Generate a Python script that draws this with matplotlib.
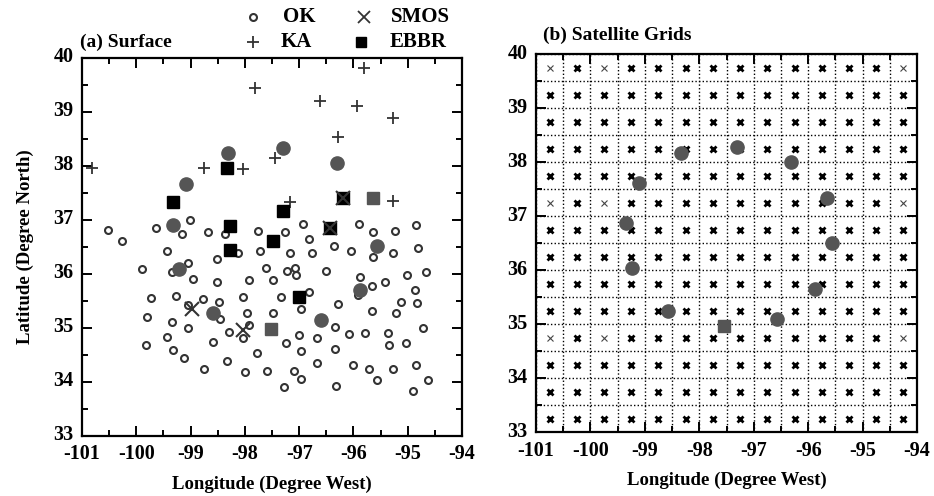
import matplotlib
matplotlib.use('Agg')
import matplotlib.pyplot as plt
from matplotlib.lines import Line2D
from matplotlib.transforms import ScaledTranslation

# ---------------- data ----------------
ok_lon = [-99.01, -100.53, -100.27, -99.64, -99.15, -98.67, -98.37, -97.75, -99.43, -98.12,
          -97.72, -98.51, -99.04, -99.90, -99.35, -98.96, -98.52, -97.92, -99.72, -99.27,
          -98.78, -98.47, -98.04, -99.80, -99.35, -99.05, -98.46, -97.96, -99.05, -98.29,
          -97.92, -98.03, -99.43, -99.82, -99.33, -98.58, -99.13, -98.32, -98.75, -98.00,
          -97.77, -97.26, -96.92, -95.89, -95.64, -95.23, -94.85, -96.81, -96.35, -96.04,
          -95.28, -94.81, -95.64, -97.17, -96.77, -97.61, -97.22, -97.08, -97.05, -97.48,
          -96.50, -95.87, -95.41, -95.01, -94.66, -96.81, -95.65, -94.87, -97.34, -96.28,
          -95.91, -95.13, -94.82, -96.96, -97.49, -96.34, -95.66, -95.21, -94.71, -97.01,
          -96.68, -96.08, -95.79, -95.36, -97.24, -96.96, -96.34, -95.34, -95.03, -96.68,
          -96.00, -97.60, -97.10, -95.71, -95.27, -94.84, -96.96, -95.56, -94.62, -97.28,
          -96.33, -94.90]
ok_lat = [37.00, 36.81, 36.61, 36.85, 36.74, 36.78, 36.75, 36.80, 36.43, 36.39,
          36.43, 36.27, 36.21, 36.09, 36.04, 35.91, 35.86, 35.89, 35.55, 35.59,
          35.53, 35.49, 35.57, 35.21, 35.12, 35.43, 35.16, 35.27, 35.00, 34.93,
          35.06, 34.81, 34.84, 34.69, 34.59, 34.75, 34.44, 34.38, 34.25, 34.19,
          34.54, 36.77, 36.92, 36.93, 36.77, 36.80, 36.91, 36.64, 36.52, 36.43,
          36.39, 36.49, 36.31, 36.38, 36.39, 36.12, 36.06, 36.11, 35.98, 35.88,
          36.06, 35.95, 35.86, 35.98, 36.03, 35.67, 35.77, 35.70, 35.57, 35.44,
          35.61, 35.49, 35.46, 35.36, 35.27, 35.01, 35.32, 35.27, 35.00, 34.87,
          34.81, 34.89, 34.90, 34.91, 34.73, 34.58, 34.62, 34.69, 34.73, 34.35,
          34.32, 34.21, 34.21, 34.24, 34.24, 34.32, 34.05, 34.04, 34.03, 33.90,
          33.93, 33.84]

ka_lon = [-97.81, -100.82, -98.75, -98.04, -95.81, -96.62, -95.94, -95.28, -96.28, -97.45,
          -95.28, -97.17]
ka_lat = [39.45, 37.97, 37.97, 37.94, 39.81, 39.20, 39.12, 38.88, 38.54, 38.14,
          37.36, 37.34]

smos_lon = [-98.98, -98.04, -96.43, -96.19]
smos_lat = [35.36, 34.96, 36.85, 37.40]

ebbr_lon = [-98.33, -99.32, -98.27, -98.27, -97.29, -96.19, -97.49, -97.00, -96.43]
ebbr_lat = [37.96, 37.34, 36.89, 36.44, 37.16, 37.40, 36.61, 35.58, 36.85]

gray_dot_lon = [-98.31, -99.09, -97.29, -96.31, -99.33, -99.21, -98.58, -95.56, -95.88, -96.59]
gray_dot_lat = [38.24, 37.66, 38.33, 38.05, 36.90, 36.09, 35.28, 36.52, 35.70, 35.14]
gray_sq_lon = [-95.64, -97.52]
gray_sq_lat = [37.40, 34.98]

# satellite grid (0.5 degree cells) centres
grid_lon = [-100.75, -100.25, -99.75, -99.25, -98.75, -98.25, -97.75, -97.25,
            -96.75, -96.25, -95.75, -95.25, -94.75, -94.25]
grid_lat = [33.25, 33.75, 34.25, 34.75, 35.25, 35.75, 36.25, 36.75,
            37.25, 37.75, 38.25, 38.75, 39.25, 39.75]
faint_lon = [-100.75, -99.75, -94.25]
faint_lat = [39.75, 37.25, 34.75]

site_lon = [-98.34, -99.10, -99.35, -97.31, -96.31, -95.66, -95.56, -99.23, -98.58, -95.88, -96.58]
site_lat = [38.18, 37.62, 36.87, 38.29, 38.01, 37.34, 36.50, 36.04, 35.25, 35.65, 35.10]
site_sq_lon = [-97.54]
site_sq_lat = [34.96]

xticks = [-101, -100, -99, -98, -97, -96, -95, -94]
yticks = [33, 34, 35, 36, 37, 38, 39, 40]
legend_labels = ['OK', 'KA', 'SMOS', 'EBBR']

# ---------------- figure ----------------
W, H = 934, 496
FONT = 'Liberation Serif'
plt.rcParams['font.family'] = [FONT, 'DejaVu Serif']
plt.rcParams['font.weight'] = 'bold'

fig = plt.figure(figsize=(W / 100, H / 100), dpi=100)
axL = fig.add_axes([82 / W, 1 - 436 / H, 380 / W, 378 / H])
axR = fig.add_axes([536 / W, 1 - 432.3 / H, 381 / W, 378 / H])

GRAY = '#555555'
DARK = '#333333'
up = ScaledTranslation(0, 3 / 100, fig.dpi_scale_trans)
TICKFONT = dict(fontsize=14.5, fontweight='heavy', family=[FONT, 'DejaVu Serif'])

for ax in (axL, axR):
    ax.set_xlim(-101, -94)
    ax.set_ylim(33, 40)
    ax.tick_params(axis='x', which='both', direction='in', top=True, bottom=True,
                   width=1.4, pad=6, color='black')
    ax.tick_params(axis='y', which='both', direction='in', left=True, right=True,
                   width=1.4, pad=6, color='black')
    ax.tick_params(which='major', length=7)
    ax.tick_params(which='minor', length=4)
    ax.set_xticks([v + 0.5 for v in xticks[:-1]], minor=True)
    ax.set_yticks([v + 0.5 for v in yticks[:-1]], minor=True)
    ax.set_xticks(xticks, labels=[str(v) for v in xticks], **TICKFONT)
    ax.set_yticks(yticks, labels=[str(v) for v in yticks], **TICKFONT)
    for s in ax.spines.values():
        s.set_linewidth(1.6)
    for lab in ax.get_yticklabels():
        lab.set_transform(lab.get_transform() + up)

# ---- left panel ----
axL.plot(ok_lon, ok_lat, 'o', ms=5, mfc='white', mec=DARK, mew=1.5, ls='none')
axL.plot(ka_lon, ka_lat, '+', ms=9, color=DARK, mew=1.3, ls='none')
axL.plot(ebbr_lon, ebbr_lat, 's', ms=8, color='black', ls='none')
axL.plot(smos_lon, smos_lat, 'x', ms=10, color=DARK, mew=1.5, ls='none')
axL.plot(gray_dot_lon, gray_dot_lat, 'o', ms=9.5, color=GRAY, ls='none')
axL.plot(gray_sq_lon, gray_sq_lat, 's', ms=8, color=GRAY, ls='none')

axL.set_xlabel('Longitude (Degree West)', fontsize=13.5, fontweight='bold', labelpad=8)
axL.set_ylabel('Latitude (Degree North)', fontsize=13.5, fontweight='bold', labelpad=14)

fig.text(80 / W, 1 - 42 / H, '(a) Surface', fontsize=14, fontweight='bold', va='center', ha='left')

# manual legend (two columns)
leg_handles = [
    dict(marker='o', ms=5, mfc='white', mec=DARK, mew=1.5, color=DARK),
    dict(marker='+', ms=9, color=DARK, mew=1.3),
    dict(marker='x', ms=8, color=DARK, mew=1.3),
    dict(marker='s', ms=7, color='black'),
]
leg_pos = [(253, 17, 283), (253, 42, 281), (364, 17, 391), (361, 42, 390)]
for lab, st, (mx, my, tx) in zip(legend_labels, leg_handles, leg_pos):
    fig.add_artist(Line2D([mx / W], [1 - my / H], ls='none', transform=fig.transFigure, **st))
    fig.text(tx / W, 1 - my / H, lab, fontsize=15, fontweight='bold', va='center', ha='left')

# ---- right panel ----
axR.grid(True, which='both', linestyle=(0, (1, 1.6)), color='black', linewidth=1.0)
axR.set_axisbelow(True)
faint_pts = [(x, y) for x in faint_lon for y in faint_lat]
strong_x, strong_y, faint_x, faint_y = [], [], [], []
for x in grid_lon:
    for y in grid_lat:
        if (x, y) in faint_pts:
            faint_x.append(x); faint_y.append(y)
        else:
            strong_x.append(x); strong_y.append(y)
axR.plot(strong_x, strong_y, 'x', ms=4.2, color='black', mew=2.0, ls='none')
axR.plot(faint_x, faint_y, 'x', ms=4.0, color='#444444', mew=0.8, ls='none')
axR.plot(site_lon, site_lat, 'o', ms=9.5, color=GRAY, ls='none')
axR.plot(site_sq_lon, site_sq_lat, 's', ms=8, color=GRAY, ls='none')

axR.set_xlabel('Longitude (Degree West)', fontsize=13.5, fontweight='bold', labelpad=8)
fig.text(543 / W, 1 - 35 / H, '(b) Satellite Grids', fontsize=14, fontweight='bold', va='center', ha='left')

fig.savefig('out.png', dpi=100)
